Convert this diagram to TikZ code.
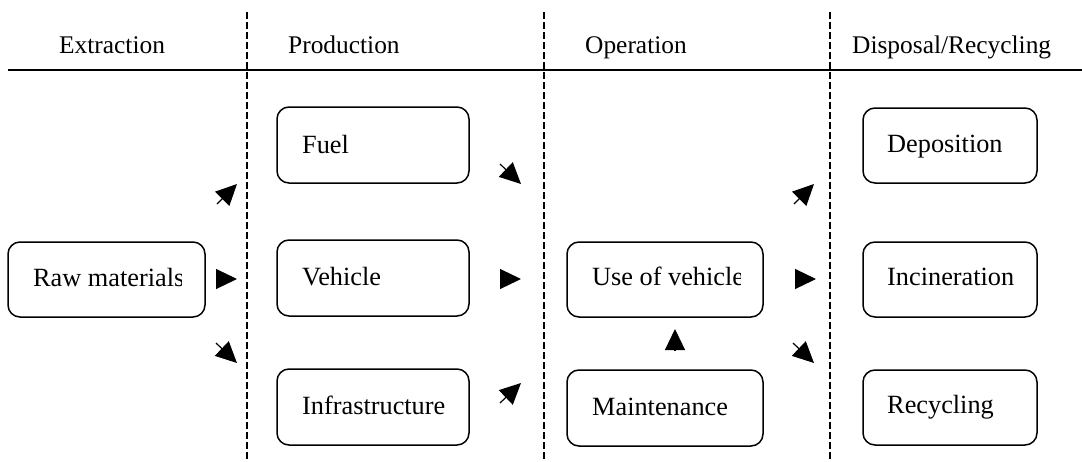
\documentclass[tikz,border=0pt]{standalone}
\usepackage{fontspec}
\setmainfont{Liberation Serif}
\usetikzlibrary{arrows.meta}
\begin{document}
\begin{tikzpicture}[x=1pt,y=-1pt,
  box/.style={draw,rounded corners=12pt,line width=1.5pt,minimum width=192pt,minimum height=76pt,inner sep=0pt},
  lbl/.style={inner sep=0pt,anchor=base west,font=\fontsize{25.4}{30}\selectfont},
  blbl/.style={inner sep=0pt,anchor=base west,font=\fontsize{26.3}{31}\selectfont},
  sep/.style={dashed,line width=1.3pt,dash pattern=on 6.5pt off 3.5pt},
  flow/.style={line width=1.2pt,-{Triangle[length=21pt,width=20pt]}}]
\useasboundingbox (0,0) rectangle (1082,461);
% headers and separators
\coordinate (hl) at (8,70);
\coordinate (hr) at (1082,70);
\draw[line width=1.5pt] (hl) -- (hr);
\foreach \x/\n in {247/a,544/b,830/c}{
  \coordinate (t\n) at (\x,12);
  \coordinate (b\n) at (\x,461);
  \draw[sep] (t\n) -- (b\n);
}
\node[lbl] (h1) at (59,53) {Extraction};
\node[lbl] (h2) at (288,53) {Production};
\node[lbl] (h3) at (585,53) {Operation};
\node[lbl] (h4) at (852,53) {Disposal/Recycling};
% boxes
\node[box,minimum width=197pt,minimum height=75pt] (raw) at (106.5,279.5) {};
\node[box] (fuel) at (373,145) {};
\node[box] (veh) at (373,278) {};
\node[box] (infra) at (373,407) {};
\node[box,minimum width=196pt,minimum height=75pt] (use) at (665,279.5) {};
\node[box,minimum width=196pt] (maint) at (665,408) {};
\node[box,minimum width=174pt,minimum height=75pt] (dep) at (950,145.5) {};
\node[box,minimum width=174pt,minimum height=75pt] (inc) at (950,279.5) {};
\node[box,minimum width=174pt,minimum height=75pt] (rec) at (950,407.5) {};
% texts
\begin{scope}
\clip (raw.south west) rectangle ([xshift=-24pt]raw.north east);
\node[blbl] (rawt) at (33,286) {Raw materials};
\end{scope}
\node[blbl] (fuelt) at (302,153) {Fuel};
\node[blbl] (veht) at (302,285) {Vehicle};
\begin{scope}
\clip (infra.south west) rectangle ([xshift=-23pt]infra.north east);
\node[blbl] (infrat) at (302,414) {Infrastructure};
\end{scope}
\begin{scope}
\clip (use.south west) rectangle ([xshift=-23pt]use.north east);
\node[blbl] (uset) at (592,285) {Use of vehicle};
\end{scope}
\node[blbl] (maintt) at (592,415) {Maintenance};
\node[blbl] (dept) at (887,152) {Deposition};
\node[blbl] (inct) at (887,285) {Incineration};
\node[blbl] (rect) at (887,413) {Recycling};
% arrows
\coordinate (a1s) at (217,204); \coordinate (a1e) at (237,184);
\coordinate (a2s) at (216,279); \coordinate (a2e) at (237,279);
\coordinate (a3s) at (216,343); \coordinate (a3e) at (237,363);
\coordinate (a4s) at (500,164); \coordinate (a4e) at (521,184);
\coordinate (a5s) at (500,279); \coordinate (a5e) at (521,279);
\coordinate (a6s) at (500,403); \coordinate (a6e) at (521,383);
\coordinate (a7s) at (794,204); \coordinate (a7e) at (814,184);
\coordinate (a8s) at (795,279); \coordinate (a8e) at (816,279);
\coordinate (a9s) at (793,343); \coordinate (a9e) at (814,363);
\coordinate (a10s) at (675,351); \coordinate (a10e) at (675,329);
\foreach \i in {1,...,10}{\draw[flow] (a\i s) -- (a\i e);}
\end{tikzpicture}
\end{document}
